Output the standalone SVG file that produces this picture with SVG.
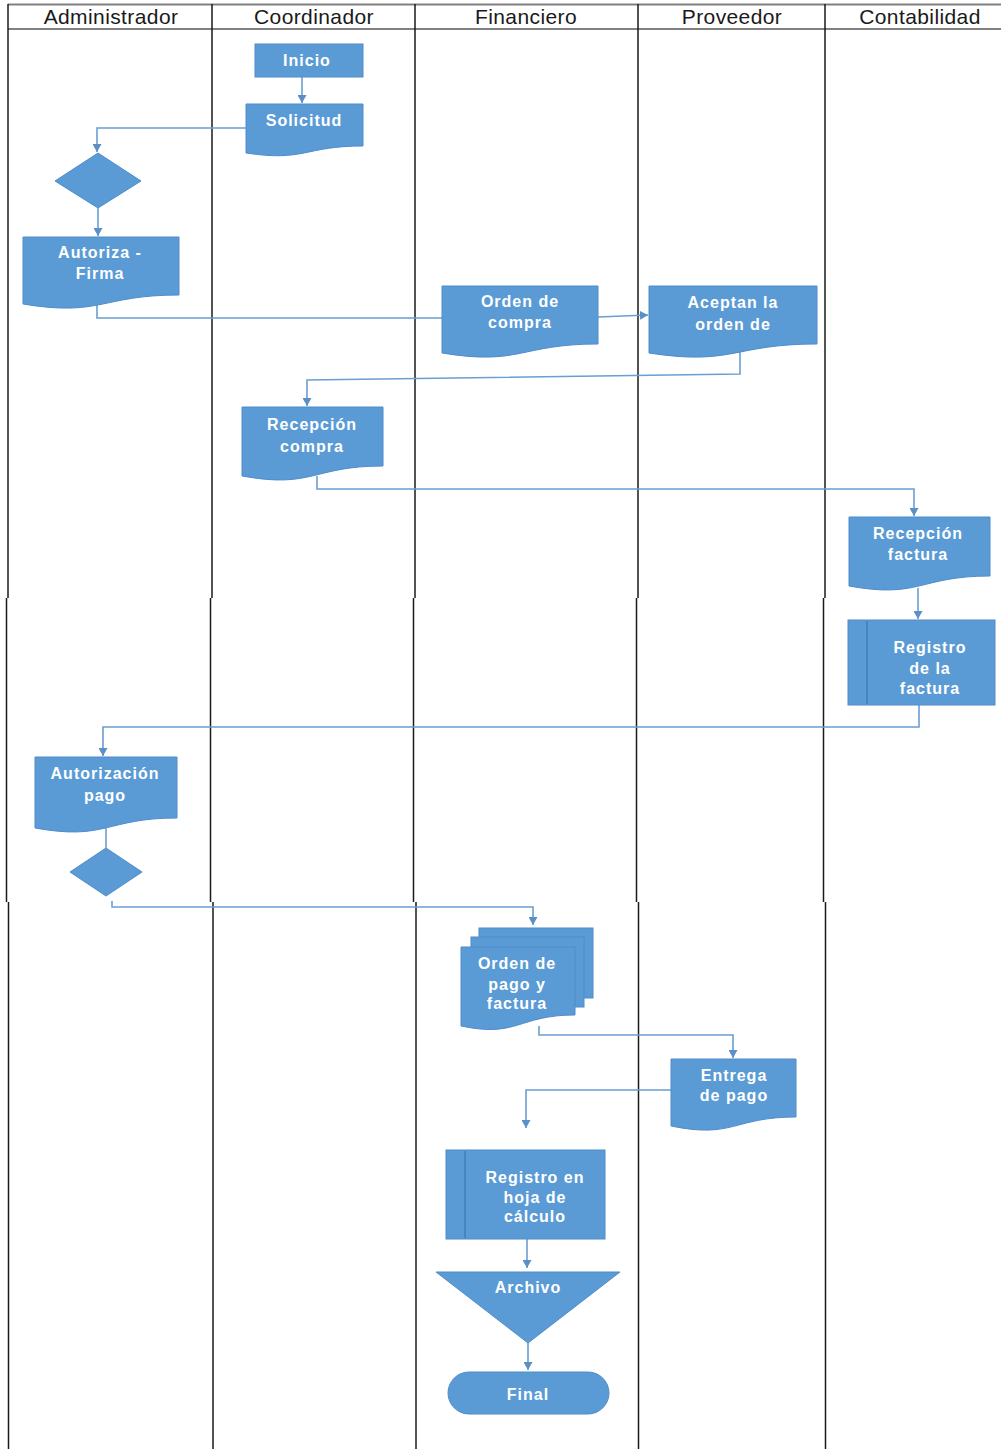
<svg xmlns="http://www.w3.org/2000/svg" width="1001" height="1449" viewBox="0 0 1001 1449">
<style>
.lane{stroke:#1a1a1a;stroke-width:1.5;fill:none}
.hline{stroke:#808080;stroke-width:2;fill:none}
.hdr{font-family:"Liberation Sans",Arial,sans-serif;font-size:21px;letter-spacing:0.4px;fill:#1a1a1a;text-anchor:middle}
.shape{fill:#5b9bd5;stroke:#4e8ccb;stroke-width:1}
.lbl{font-family:"Liberation Sans",Arial,sans-serif;font-size:16px;font-weight:bold;letter-spacing:1px;fill:#ffffff;text-anchor:middle}
.con{stroke:#6a9fd2;stroke-width:1.6;fill:none}
.inner{stroke:#3f77ad;stroke-width:1.2}
</style>
<defs>
<marker id="arr" markerUnits="userSpaceOnUse" markerWidth="9" markerHeight="9" refX="8" refY="4.5" orient="auto">
<path d="M0,0 L8,4.5 L0,9 Z" fill="#5b8fc6"/>
</marker>
</defs>
<rect width="1001" height="1449" fill="#ffffff"/>
<g id="lanes">
<line class="hline" x1="8" y1="4.5" x2="1001" y2="4.5"/>
<line class="hline" x1="8" y1="29" x2="1001" y2="29"/>
<line class="lane" x1="8" y1="4" x2="8" y2="598"/>
<line class="lane" x1="212" y1="4" x2="212" y2="598"/>
<line class="lane" x1="415" y1="4" x2="415" y2="598"/>
<line class="lane" x1="638" y1="4" x2="638" y2="598"/>
<line class="lane" x1="825" y1="4" x2="825" y2="598"/>
<line class="lane" x1="6.5" y1="598" x2="6.5" y2="902"/>
<line class="lane" x1="210.5" y1="598" x2="210.5" y2="902"/>
<line class="lane" x1="413.5" y1="598" x2="413.5" y2="902"/>
<line class="lane" x1="636.5" y1="598" x2="636.5" y2="902"/>
<line class="lane" x1="823.5" y1="598" x2="823.5" y2="902"/>
<line class="lane" x1="8.5" y1="902" x2="8.5" y2="1449"/>
<line class="lane" x1="213" y1="902" x2="213" y2="1449"/>
<line class="lane" x1="416" y1="902" x2="416" y2="1449"/>
<line class="lane" x1="638.5" y1="902" x2="638.5" y2="1449"/>
<line class="lane" x1="825.5" y1="902" x2="825.5" y2="1449"/>
<text class="hdr" x="111" y="24">Administrador</text>
<text class="hdr" x="314" y="24">Coordinador</text>
<text class="hdr" x="526" y="24">Financiero</text>
<text class="hdr" x="732" y="24">Proveedor</text>
<text class="hdr" x="920" y="24">Contabilidad</text>
</g>
<g id="connectors">
<path class="con" d="M302,77 V103" marker-end="url(#arr)"/>
<path class="con" d="M246,128 H97 V152" marker-end="url(#arr)"/>
<path class="con" d="M98,208 V236" marker-end="url(#arr)"/>
<path class="con" d="M97,304 V318 H442"/>
<path class="con" d="M598,317 L648,315" marker-end="url(#arr)"/>
<path class="con" d="M740,350 V374 L307,380 V406" marker-end="url(#arr)"/>
<path class="con" d="M317,476 V489 H914 V516" marker-end="url(#arr)"/>
<path class="con" d="M918,588 V619" marker-end="url(#arr)"/>
<path class="con" d="M919,705 V727 H103 V756" marker-end="url(#arr)"/>
<path class="con" d="M106,828 V848"/>
<path class="con" d="M112,901 V907 H533 V925" marker-end="url(#arr)"/>
<path class="con" d="M539,1026 V1035 H733 V1058" marker-end="url(#arr)"/>
<path class="con" d="M671,1090 H526 V1128" marker-end="url(#arr)"/>
<path class="con" d="M527,1239 V1268" marker-end="url(#arr)"/>
<path class="con" d="M528,1343 V1370" marker-end="url(#arr)"/>
</g>
<g id="inicio">
<rect class="shape" x="255" y="44" width="108" height="33"/>
<text class="lbl" x="307" y="66">Inicio</text>
</g>
<g id="solicitud">
<path class="shape" d="M246,104 H363 V146 C304.5,146 304.5,162 246,153 Z"/>
<text class="lbl" x="304" y="126">Solicitud</text>
</g>
<g id="decision1">
<polygon class="shape" points="98,153 141,181 98,208 55,181"/>
</g>
<g id="autoriza">
<path class="shape" d="M23,237 H179 V295 C101,295 101,317 23,304 Z"/>
<text class="lbl" x="100" y="258">Autoriza -</text>
<text class="lbl" x="100" y="279">Firma</text>
</g>
<g id="orden-compra">
<path class="shape" d="M442,286 H598 V344 C520,344 520,366 442,353 Z"/>
<text class="lbl" x="520" y="307">Orden de</text>
<text class="lbl" x="520" y="328">compra</text>
</g>
<g id="aceptan">
<path class="shape" d="M649,286 H817 V344 C733,344 733,366 649,353 Z"/>
<text class="lbl" x="733" y="308">Aceptan la</text>
<text class="lbl" x="733" y="330">orden de</text>
</g>
<g id="recepcion-compra">
<path class="shape" d="M242,407 H383 V466 C312.5,466 312.5,489 242,476 Z"/>
<text class="lbl" x="312" y="430">Recepción</text>
<text class="lbl" x="312" y="452">compra</text>
</g>
<g id="recepcion-factura">
<path class="shape" d="M849,517 H990 V576 C919.5,576 919.5,599 849,586 Z"/>
<text class="lbl" x="918" y="539">Recepción</text>
<text class="lbl" x="918" y="560">factura</text>
</g>
<g id="registro-factura">
<rect class="shape" x="848" y="620" width="147" height="85"/>
<line class="inner" x1="867" y1="621" x2="867" y2="704"/>
<text class="lbl" x="930" y="653">Registro</text>
<text class="lbl" x="930" y="674">de la</text>
<text class="lbl" x="930" y="694">factura</text>
</g>
<g id="autorizacion-pago">
<path class="shape" d="M35,757 H177 V818 C106,818 106,841 35,828 Z"/>
<text class="lbl" x="105" y="779">Autorización</text>
<text class="lbl" x="105" y="801">pago</text>
</g>
<g id="decision2">
<polygon class="shape" points="106,848 142,872 106,896 70,872"/>
</g>
<g id="orden-pago">
<rect class="shape" x="479" y="928" width="114" height="70"/>
<rect class="shape" x="471" y="937" width="113" height="70"/>
<path class="shape" d="M461,947 H575 V1015 C518,1015 518,1038 461,1026 Z"/>
<text class="lbl" x="517" y="969">Orden de</text>
<text class="lbl" x="517" y="990">pago y</text>
<text class="lbl" x="517" y="1009">factura</text>
</g>
<g id="entrega-pago">
<path class="shape" d="M671,1059 H796 V1117 C733.5,1117 733.5,1139 671,1126 Z"/>
<text class="lbl" x="734" y="1081">Entrega</text>
<text class="lbl" x="734" y="1101">de pago</text>
</g>
<g id="registro-hoja">
<rect class="shape" x="446" y="1150" width="159" height="89"/>
<line class="inner" x1="465" y1="1151" x2="465" y2="1238"/>
<text class="lbl" x="535" y="1183">Registro en</text>
<text class="lbl" x="535" y="1203">hoja de</text>
<text class="lbl" x="535" y="1222">cálculo</text>
</g>
<g id="archivo">
<polygon class="shape" points="436,1272 620,1272 528,1343"/>
<text class="lbl" x="528" y="1293">Archivo</text>
</g>
<g id="final">
<rect class="shape" x="448" y="1372" width="161" height="42" rx="21" ry="21"/>
<text class="lbl" x="528" y="1400">Final</text>
</g>
</svg>
